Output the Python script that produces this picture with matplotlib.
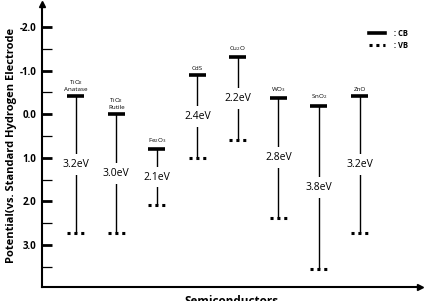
"""Band edge positions of common semiconductor photocatalysts."""

import matplotlib.pyplot as plt
from matplotlib.lines import Line2D

plt.rcParams["font.family"] = ["Open Sans", "DejaVu Sans"]
plt.rcParams["mathtext.fontset"] = "custom"
plt.rcParams["mathtext.rm"] = "Open Sans"
plt.rcParams["mathtext.it"] = "Open Sans"

materials = ["TiO$_2$\nAnatase", "TiO$_2$\nRutile", "Fe$_2$O$_3$", "CdS",
             "Cu$_2$O", "WO$_3$", "SnO$_2$", "ZnO"]
cb_edge = [-0.42, 0.00, 0.80, -0.90, -1.32, -0.38, -0.20, -0.42]
vb_edge = [2.73, 2.73, 2.08, 1.00, 0.60, 2.37, 3.55, 2.72]
gap_labels = ["3.2eV", "3.0eV", "2.1eV", "2.4eV", "2.2eV", "2.8eV", "3.8eV", "3.2eV"]
major_ticks = [-2.0, -1.0, 0.0, 1.0, 2.0, 3.0]
minor_ticks = [-1.5, -0.5, 0.5, 1.5, 2.5, 3.5]

VB_STYLE = (0, (1.0, 1.25))


def main() -> None:
    fig = plt.figure(figsize=(4.25, 3.01), dpi=100)
    ax = fig.add_axes([0.099, 0.048, 0.89, 0.939])

    half = 0.21
    for i, (name, cb, vb, gap) in enumerate(zip(materials, cb_edge, vb_edge, gap_labels)):
        ax.vlines(i, cb, vb, color="black", lw=1.0, zorder=1)
        ax.hlines(cb, i - half, i + half, color="black", lw=2.6, zorder=2)
        ax.hlines(vb, i - half, i + half, color="black", lw=2.2,
                  linestyles=VB_STYLE, zorder=2)
        ax.text(i, (cb + vb) / 2, gap, ha="center", va="center", fontsize=7.5,
                zorder=3, bbox=dict(facecolor="white", edgecolor="none", pad=3.5))
        ax.annotate(name, (i, cb), xytext=(0, 3), textcoords="offset points",
                    ha="center", va="bottom", fontsize=4.5, linespacing=0.9)

    ax.set_xlim(-0.83, 8.5)
    ax.set_ylim(3.95, -2.53)
    ax.set_xticks([])
    ax.set_yticks(major_ticks)
    ax.set_yticklabels([f"{t:.1f}" for t in major_ticks], fontweight="bold", fontsize=7)
    ax.set_yticks(minor_ticks, minor=True)
    ax.tick_params(axis="y", which="major", direction="in", length=7, width=2, pad=4)
    ax.tick_params(axis="y", which="minor", direction="in", length=7, width=0.9)

    for side in ("top", "right"):
        ax.spines[side].set_visible(False)
    for side in ("left", "bottom"):
        ax.spines[side].set_linewidth(1.5)
    ax.plot(0, 1, marker="^", color="black", markersize=5,
            transform=ax.transAxes, clip_on=False)
    ax.plot(1, 0, marker=">", color="black", markersize=5,
            transform=ax.transAxes, clip_on=False)

    ax.set_ylabel("Potential(vs. Standard Hydrogen Electrode", fontweight="bold",
                  fontsize=8, labelpad=2)
    ax.set_xlabel("Semiconductors", fontweight="bold", fontsize=8.5, labelpad=6)

    handles = [Line2D([], [], color="black", lw=2.6),
               Line2D([], [], color="black", lw=2.2, linestyle=VB_STYLE)]
    ax.legend(handles, [": CB", ": VB"], loc="upper right", bbox_to_anchor=(0.985, 0.935),
              frameon=False, handlelength=2.0, handletextpad=1.2,
              labelspacing=0.35, prop={"weight": "bold", "size": 5.5})

    fig.savefig("out.png", dpi=100)
    plt.close(fig)


if __name__ == "__main__":
    main()
